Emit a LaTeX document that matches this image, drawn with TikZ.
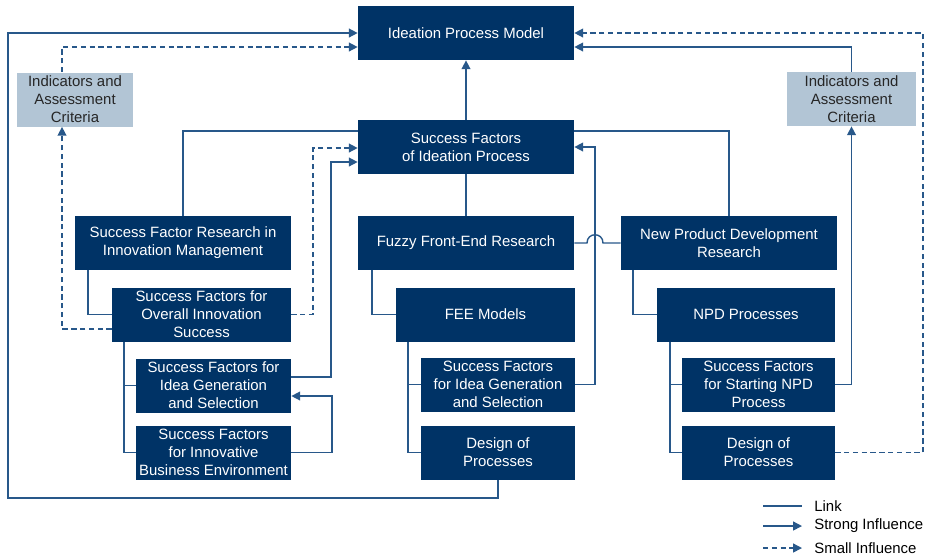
\documentclass[tikz,border=0pt]{standalone}
\usepackage{fontspec}
\setmainfont{Liberation Sans}
\usetikzlibrary{arrows.meta}
\definecolor{boxblue}{RGB}{0,51,102}
\definecolor{lineblue}{RGB}{40,88,138}
\definecolor{critgray}{RGB}{178,197,213}
\tikzset{
	box/.style={fill=boxblue, text=white, align=center, inner sep=0pt,
		minimum height=1.08cm, font=\fontsize{8.5}{10.2}\selectfont},
	critbox/.style={box, fill=critgray, text=black!85},
	link/.style={draw=lineblue, line width=0.8pt},
	strong/.style={link, -{Triangle[length=5pt,width=5pt]}},
	weak/.style={strong, dash pattern=on 3pt off 2pt},
	legtext/.style={anchor=west, inner sep=0pt, font=\fontsize{8.5}{10.2}\selectfont}
}
\begin{document}
\begin{tikzpicture}[x=0.02cm, y=-0.02cm]
	\useasboundingbox (0,0) rectangle (925,556);
	
	%modell
	\node[box, minimum width=4.32cm] (ipm) at (466,33) {Ideation Process Model};
	\node[box, minimum width=4.32cm] (sfip) at (466,147) {Success Factors\\of Ideation Process};
	\node[critbox, minimum width=2.32cm] (indL) at (75,99.5) {Indicators and\\Assessment\\Criteria};
	\node[critbox, minimum width=2.58cm] (indR) at (851.5,99) {Indicators and\\Assessment\\Criteria};
	
	%kutatás
	\node[box, minimum width=4.32cm] (sfr) at (183,243) {Success Factor Research in\\Innovation Management};
	\node[box, minimum width=4.32cm] (ffe) at (466,243) {Fuzzy Front-End Research};
	\node[box, minimum width=4.32cm] (npdr) at (729,243) {New Product Development\\Research};
	
	%bal oszlop
	\node[box, minimum width=3.58cm] (sfo) at (201.5,314.5) {Success Factors for\\Overall Innovation\\Success};
	\node[box, minimum width=3.1cm] (sfigL) at (213.5,385.5) {Success Factors for\\Idea Generation\\and Selection};
	\node[box, minimum width=3.1cm] (sfbe) at (213.5,452.5) {Success Factors\\for Innovative\\Business Environment};
	
	%középső oszlop
	\node[box, minimum width=3.58cm] (fee) at (485.5,314.5) {FEE Models};
	\node[box, minimum width=3.08cm] (sfigM) at (498,384.5) {Success Factors\\for Idea Generation\\and Selection};
	\node[box, minimum width=3.08cm] (dopM) at (498,452.5) {Design of\\Processes};
	
	%jobb oszlop
	\node[box, minimum width=3.56cm] (npdp) at (746,314.5) {NPD Processes};
	\node[box, minimum width=3.06cm] (sfsn) at (758.5,384.5) {Success Factors\\for Starting NPD\\Process};
	\node[box, minimum width=3.06cm] (dopR) at (758.5,452.5) {Design of\\Processes};
	
	%kapcsolatok
	\draw[strong] (sfip.north) -- (ipm.south);
	\draw[link] (ffe.north) -- (sfip.south);
	\draw[link] (sfr.north) |- (sfip.west |- 0,131);
	\draw[link] (npdr.north) |- (sfip.east |- 0,131);
	\draw[link] (ffe.east) -- (587,243) .. controls (587,232) and (603,232) .. (603,243) -- (npdr.west);
	
	\draw[link] (sfr.south -| 88,0) |- (sfo.west);
	\draw[link] (sfo.south -| 124,0) |- (sfigL.west);
	\draw[link] (sfo.south -| 124,0) |- (sfbe.west);
	\draw[link] (ffe.south -| 372,0) |- (fee.west);
	\draw[link] (fee.south -| 408,0) |- (sfigM.west);
	\draw[link] (fee.south -| 408,0) |- (dopM.west);
	\draw[link] (npdr.south -| 633,0) |- (npdp.west);
	\draw[link] (npdp.south -| 670,0) |- (sfsn.west);
	\draw[link] (npdp.south -| 670,0) |- (dopR.west);
	
	%hatások
	\draw[strong] (dopM.south) |- (8,498) |- (ipm.west);
	\draw[weak] (sfo.west |- 0,329) -| ([xshift=-0.26cm]indL.south);
	\draw[weak] ([xshift=-0.26cm]indL.north) |- (ipm.west |- 0,47);
	\draw[weak] (sfo.east) -| (313,148) -- (sfip.west |- 0,148);
	\draw[strong] (sfigL.east |- 0,377) -| (331,162) -- (sfip.west |- 0,162);
	\draw[strong] (sfbe.east) -| (332,396) -- (sfigL.east |- 0,396);
	\draw[strong] (sfigM.east) -| (595,147) -- (sfip.east |- 0,147);
	\draw[strong] (sfsn.east) -| (indR.south);
	\draw[strong] (indR.north) |- (ipm.east |- 0,47);
	\draw[weak] (dopR.east) -| (923,33) -- (ipm.east);
	
	%jelmagyarázat
	\node[legtext] (lnk) at (814,506) {Link};
	\node[legtext] (str) at (814,526) {Strong Influence};
	\node[legtext] (sml) at (814,548) {Small Influence};
	\coordinate (l1) at (763,506);
	\coordinate (l2) at (763,526);
	\coordinate (l3) at (763,548);
	\draw[link] (l1) -- (802,506);
	\draw[strong] (l2) -- (802,526);
	\draw[weak] (l3) -- (802,548);
	
\end{tikzpicture}
\end{document}
